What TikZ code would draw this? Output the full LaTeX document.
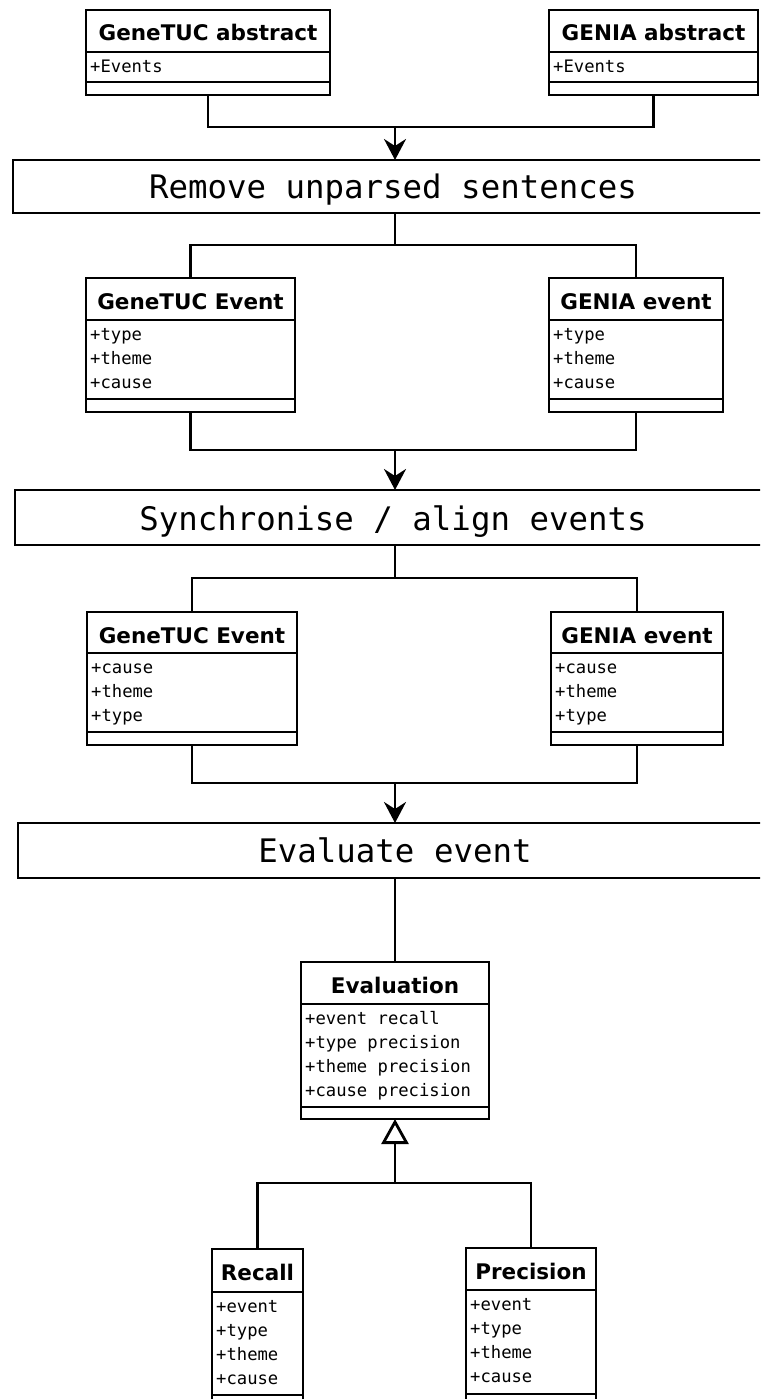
\documentclass[tikz,border=0pt]{standalone}
\usepackage{fontspec}
\setmainfont{DejaVu Sans}
\newfontfamily\umltitlefont{DejaVu Sans}
\newfontfamily\umlmonofont{DejaVu Sans Mono}
\usetikzlibrary{arrows.meta}

\tikzset{
  umlframe/.style={draw, rectangle, line width=2.8pt, inner sep=0pt, outer sep=0pt},
  divider/.style={line width=2.8pt},
  conn/.style={line width=2.8pt},
  flow/.style={conn, -{Stealth[length=21pt,width=22pt,inset=7pt]}},
  inherit/.style={conn, -{Triangle[open,length=25pt,width=27pt,fill=white]}},
  titletext/.style={font=\umltitlefont\bfseries\fontsize{21.5}{24}\selectfont, inner sep=0pt},
  attrtext/.style={font=\umlmonofont\fontsize{17.2}{24}\selectfont, inner sep=0pt},
  proctext/.style={font=\umlmonofont\fontsize{32.4}{36}\selectfont, inner sep=0pt},
}

% name, left, top, right, divider1, divider2, bottom, title, attributes
\newcommand\umlclass[9]{%
  \node[umlframe, anchor=north west, minimum width={#4-#2}, minimum height={#7-#3}] (#1) at (#2,#3) {};
  \draw[divider] (#2,#5) -- (#4,#5);
  \draw[divider] (#2,#6) -- (#4,#6);
  \node[titletext, anchor=base] (#1-t) at ({(#2+#4)/2},{#3+31}) {#8};
  \foreach \a [count=\i] in {#9} {\node[attrtext, anchor=base west] (#1-a\i) at ({#2+4},{#5+20.5+24*(\i-1)}) {\a};}
}

\begin{document}
\begin{tikzpicture}[x=1pt,y=-1pt]
\useasboundingbox (0,0) rectangle (760,1399);
\fill[white] (0,0) rectangle (760,1399);
\clip (0,0) rectangle (760,1399);

% top classes
\umlclass{ga}{86}{10}{330}{52}{82}{95}{GeneTUC abstract}{+Events}
\umlclass{gna}{549}{10}{758}{52}{82}{95}{GENIA abstract}{+Events}

% process 1
\node[umlframe, anchor=north west, minimum width=764, minimum height=53] (rm) at (13,160) {};
\node[proctext, anchor=base] (rm-t) at (393,198) {Remove unparsed sentences};

% event classes 1
\umlclass{ge1}{86}{278}{295}{320}{399}{412}{GeneTUC Event}{+type,+theme,+cause}
\umlclass{gn1}{549}{278}{723}{320}{399}{412}{GENIA event}{+type,+theme,+cause}

% process 2
\node[umlframe, anchor=north west, minimum width=760, minimum height=55] (sy) at (15,490) {};
\node[proctext, anchor=base] (sy-t) at (393,530) {Synchronise / align events};

% event classes 2
\umlclass{ge2}{87}{612}{297}{653}{732}{745}{GeneTUC Event}{+cause,+theme,+type}
\umlclass{gn2}{551}{612}{723}{653}{732}{745}{GENIA event}{+cause,+theme,+type}

% process 3
\node[umlframe, anchor=north west, minimum width=754, minimum height=55] (ev) at (18,823) {};
\node[proctext, anchor=base] (ev-t) at (395,862) {Evaluate event};

% evaluation classes
\umlclass{eval}{301}{962}{489}{1004}{1107}{1119}{Evaluation}{+event recall,+type precision,+theme precision,+cause precision}
\umlclass{rec}{212}{1249}{303}{1292}{1395}{1410}{Recall}{+event,+type,+theme,+cause}
\umlclass{prec}{466}{1248}{596}{1290}{1394}{1410}{Precision}{+event,+type,+theme,+cause}

% connectors
\coordinate (j1) at (395,127);
\coordinate (j2) at (395,245);
\coordinate (j3) at (395,450);
\coordinate (j4) at (395,578);
\coordinate (j5) at (395,783);
\coordinate (j6) at (395,1183);

\draw[conn] (ga.south) |- (j1) -| (gna.south);
\draw[flow] (j1) -- (rm.north);

\draw[conn] (rm.south) -- (j2);
\draw[conn] (ge1.north) |- (j2) -| (gn1.north);

\draw[conn] (ge1.south) |- (j3) -| (gn1.south);
\draw[flow] (j3) -- (sy.north);

\draw[conn] (sy.south) -- (j4);
\draw[conn] (ge2.north) |- (j4) -| (gn2.north);

\draw[conn] (ge2.south) |- (j5) -| (gn2.south);
\draw[flow] (j5) -- (ev.north);

\draw[conn] (ev.south) -- (eval.north);

\draw[conn] (rec.north) |- (j6) -| (prec.north);
\draw[inherit] (j6) -- (eval.south);
\end{tikzpicture}
\end{document}
